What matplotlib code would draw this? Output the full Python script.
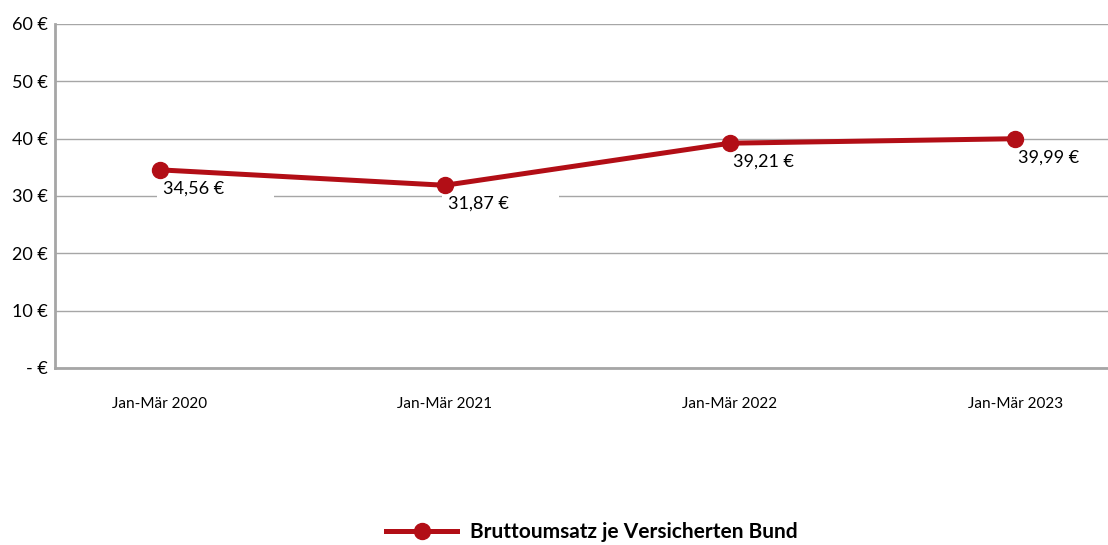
import numpy as np
import matplotlib.pyplot as plt
from matplotlib.lines import Line2D
from matplotlib.patches import Rectangle
from matplotlib.transforms import ScaledTranslation

plt.rcParams['font.family'] = ['Lato', 'DejaVu Sans']

quarters = ['Jan-Mär 2020', 'Jan-Mär 2021', 'Jan-Mär 2022', 'Jan-Mär 2023']
umsatz = [34.56, 31.87, 39.21, 39.99]
yTicks = [0, 10, 20, 30, 40, 50, 60]
yTickLabels = ['- €', '10 €', '20 €', '30 €', '40 €', '50 €', '60 €']
seriesName = 'Bruttoumsatz je Versicherten Bund'

red = '#b20e16'
gridGray = '#a6a6a6'

fig = plt.figure(figsize=(11.08, 5.45), dpi=100)
ax = fig.add_axes([55 / 1108, 177 / 545, 1053 / 1108, 344 / 545])

x = np.arange(len(quarters))
ax.plot(x, umsatz, color=red, lw=3.6, marker='o', ms=11.5, zorder=3)

# labels sit in a wide white box that cuts the gridline below them
for xi, val in zip(x, umsatz):
    tr = fig.dpi_scale_trans + ScaledTranslation(xi, val, ax.transData)
    ax.add_patch(Rectangle((-0.03, -0.32), 1.17, 0.22, transform=tr,
                           fc='white', ec='none', zorder=2, clip_on=False))
    txt = '{:.2f} €'.format(val).replace('.', ',')
    ax.annotate(txt, (xi, val), xytext=(2, -13.5), textcoords='offset points',
                ha='left', va='center', fontsize=13, color='black', zorder=4)

ax.set_xlim(-0.368, 3.326)
ax.set_ylim(0, 60)
ax.set_yticks(yTicks)
ax.set_yticklabels(yTickLabels, fontsize=13)
ax.set_xticks(x)
ax.set_xticklabels(quarters, fontsize=11)
ax.tick_params(axis='both', length=0)
ax.tick_params(axis='y', pad=5)
ax.tick_params(axis='x', pad=21)

ax.grid(axis='y', color=gridGray, lw=1)
ax.set_axisbelow(True)
for s in ['top', 'right']:
    ax.spines[s].set_visible(False)
for s in ['left', 'bottom']:
    ax.spines[s].set_color(gridGray)
    ax.spines[s].set_linewidth(2)

handle = Line2D([], [], color=red, lw=3.6, marker='o', ms=11.5)
fig.legend([handle], [seriesName], loc='center', bbox_to_anchor=(0.534, 0.023),
           frameon=False, handlelength=3.4, handletextpad=0.6,
           prop={'size': 15, 'weight': 'bold'})

fig.savefig('out.png', dpi=100)
